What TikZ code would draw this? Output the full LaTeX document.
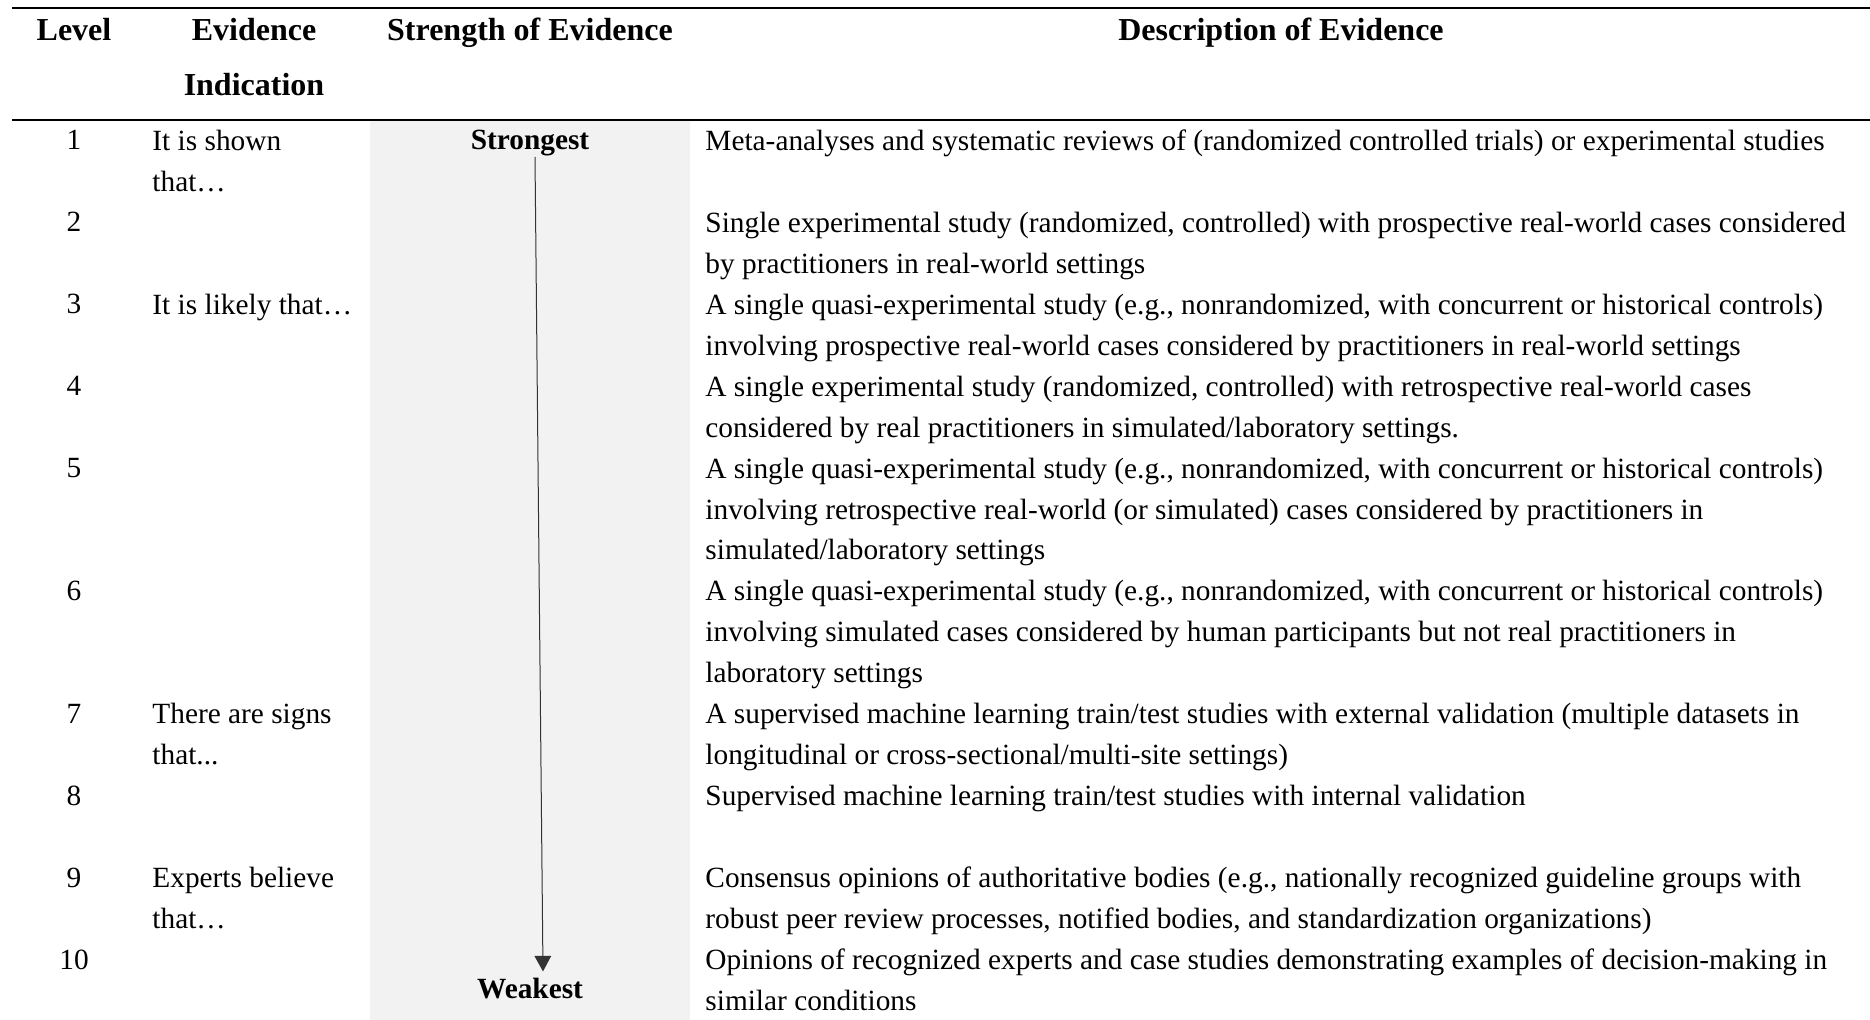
\documentclass[tikz,border=0pt]{standalone}
\usepackage{fontspec}
\setmainfont{Liberation Serif}
\usetikzlibrary{positioning, arrows.meta}

\newcommand{\rowfont}{\fontsize{13.2}{18.43}\selectfont}
\newcommand{\headfont}{\fontsize{14.4}{18.43}\selectfont\bfseries}

\begin{document}
\begin{tikzpicture}[x=0.45pt, y=-0.45pt,
    head/.style = {anchor=base, inner sep=0pt, font=\headfont},
    tag/.style = {anchor=base, inner sep=0pt, font=\rowfont\bfseries},
    lvl/.style = {anchor=base, inner sep=0pt, font=\rowfont},
    cell/.style = {anchor=north west, inner sep=0pt, align=left, font=\rowfont},
    strengtharrow/.style = {draw=black!80, line width=0.45pt, -{Triangle[length=7pt, width=7.5pt]}}]
    \useasboundingbox (0,0) rectangle (1870,1020);
    \fill[gray!10] (370,121) rectangle (690,1020);
    \draw[line width=0.9pt] (12,8) -- (1870,8);
    \draw[line width=0.9pt] (12,120) -- (1870,120);
    % header
    \node[head] (hlevel) at (74,40.5) {Level};
    \node[head] (hind) at (254,40.5) {Evidence};
    \node[head] (hind2) at (254,95.5) {Indication};
    \node[head] (hstrength) at (530,40.5) {Strength of Evidence};
    \node[head] (hdesc) at (1281,40.5) {Description of Evidence};
    % levels
    \node[lvl] (l1) at (74,150) {1};
    \node[lvl] (l2) at (74,231.9) {2};
    \node[lvl] (l3) at (74,313.8) {3};
    \node[lvl] (l4) at (74,395.7) {4};
    \node[lvl] (l5) at (74,477.6) {5};
    \node[lvl] (l6) at (74,600.45) {6};
    \node[lvl] (l7) at (74,723.3) {7};
    \node[lvl] (l8) at (74,805.2) {8};
    \node[lvl] (l9) at (74,887.1) {9};
    \node[lvl] (l10) at (74,969) {10};
    % indications
    \node[cell] (i1) at (152,121.33) {\strut It is shown\\that…};
    \node[cell] (i3) at (152,285.13) {\strut It is likely that…};
    \node[cell] (i7) at (152,694.63) {\strut There are signs\\that...};
    \node[cell] (i9) at (152,858.43) {\strut Experts believe\\that…};
    % strength
    \node[tag] (strong) at (530,150) {Strongest};
    \node[tag] (weak) at (530,998) {Weakest};
    \draw[strengtharrow] ([xshift=2.25pt]strong.south) -- ([xshift=5.85pt, yshift=2.6pt]weak.north);
    % descriptions
    \node[cell] (d1) at (705,121.33) {\strut Meta-analyses and systematic reviews of (randomized controlled trials) or experimental studies};
    \node[cell] (d2) at (705,203.23) {\strut Single experimental study (randomized, controlled) with prospective real-world cases considered\\by practitioners in real-world settings};
    \node[cell] (d3) at (705,285.13) {\strut A single quasi-experimental study (e.g., nonrandomized, with concurrent or historical controls)\\involving prospective real-world cases considered by practitioners in real-world settings};
    \node[cell] (d4) at (705,367.03) {\strut A single experimental study (randomized, controlled) with retrospective real-world cases\\considered by real practitioners in simulated/laboratory settings.};
    \node[cell] (d5) at (705,448.93) {\strut A single quasi-experimental study (e.g., nonrandomized, with concurrent or historical controls)\\involving retrospective real-world (or simulated) cases considered by practitioners in\\simulated/laboratory settings};
    \node[cell] (d6) at (705,571.78) {\strut A single quasi-experimental study (e.g., nonrandomized, with concurrent or historical controls)\\involving simulated cases considered by human participants but not real practitioners in\\laboratory settings};
    \node[cell] (d7) at (705,694.63) {\strut A supervised machine learning train/test studies with external validation (multiple datasets in\\longitudinal or cross-sectional/multi-site settings)};
    \node[cell] (d8) at (705,776.53) {\strut Supervised machine learning train/test studies with internal validation};
    \node[cell] (d9) at (705,858.43) {\strut Consensus opinions of authoritative bodies (e.g., nationally recognized guideline groups with\\robust peer review processes, notified bodies, and standardization organizations)};
    \node[cell] (d10) at (705,940.33) {\strut Opinions of recognized experts and case studies demonstrating examples of decision-making in\\similar conditions};
\end{tikzpicture}
\end{document}
